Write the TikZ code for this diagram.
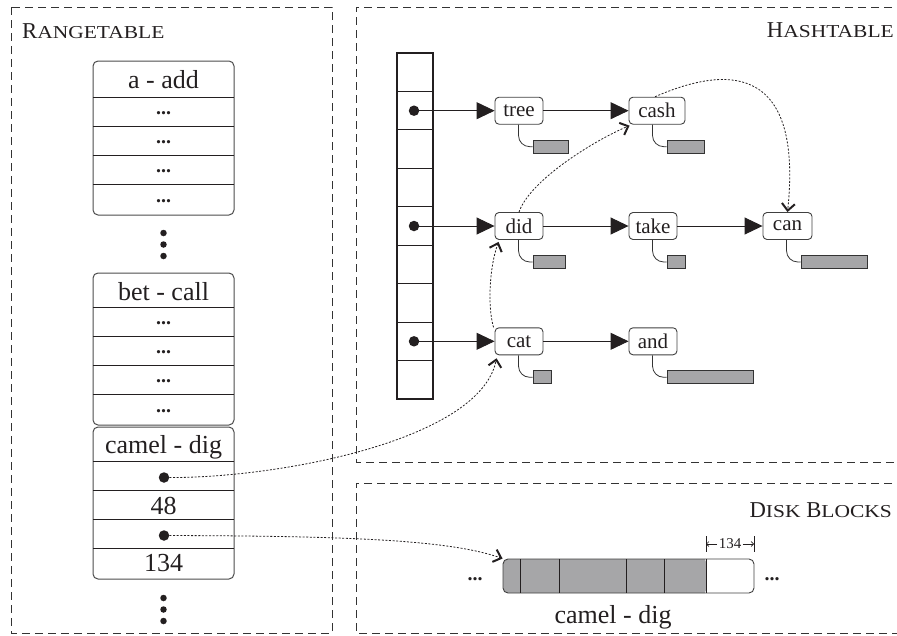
\documentclass[tikz,border=0pt]{standalone}
\usepackage{fontspec}
\usepackage{graphicx}
\setmainfont{Liberation Serif}
\usetikzlibrary{arrows.meta}
\definecolor{ink}{RGB}{35,31,32}
\definecolor{barfill}{RGB}{166,166,168}
\newcommand{\myfs}[1]{\fontsize{#1}{#1}\selectfont}
\newcommand{\fakesc}[2]{{\myfs{22.7}#1}\scalebox{1.18}[1]{\myfs{18.2}#2}}
\begin{document}
\begin{tikzpicture}[x=1pt,y=-1pt,
  panel/.style={draw=black!80, line width=0.9pt, dash pattern=on 8pt off 5pt},
  title/.style={inner sep=0, text=ink},
  rtxt/.style={inner sep=0, font=\myfs{26}, text=ink},
  ell/.style={inner sep=0, font=\myfs{20}\bfseries, text=ink},
  rtbox/.style={draw=black!70, line width=1pt, rounded corners=5pt},
  rowsep/.style={draw=ink, line width=0.9pt},
  cell/.style={draw=ink, line width=1.1pt, minimum width=36pt, minimum height=38.44pt, inner sep=0},
  ptrdot/.style={circle, fill=ink, inner sep=0, minimum size=10.5pt},
  vdot/.style={circle, fill=ink, inner sep=0, minimum size=6.5pt},
  hnode/.style={draw=black!75, line width=0.9pt, rounded corners=4pt, minimum width=48pt, minimum height=27pt, inner sep=0, font=\myfs{21}, text=ink},
  bar/.style={draw=black!80, line width=0.9pt, fill=barfill, minimum height=13pt, inner sep=0, anchor=west},
  lead/.style={draw=black!80, line width=0.8pt, rounded corners=11pt},
  ptr/.style={draw=ink, line width=0.9pt, -{Triangle[length=18pt,width=17pt]}},
  refarrow/.style={draw=ink, line width=0.8pt, dash pattern=on 2pt off 1.6pt, -{Straight Barb[length=7pt,width=13pt,line width=2pt]}},
  dimarrow/.style={draw=ink, line width=0.6pt, -{Straight Barb[length=2.5pt,width=5pt]}}
]
\useasboundingbox (0,0) rectangle (897,635);
\clip (0,0) rectangle (897,635);

% panels
\draw[panel] (11,7) rectangle (332,633);
\draw[panel] (905,7) -- (356,7) -- (356,462) -- (905,462);
\draw[panel] (905,483) -- (356,483) -- (356,633) -- (905,633);

% titles
\node[title, anchor=base west] (tRange) at (22,38) {\fakesc{R}{ANGETABLE}};
\node[title, anchor=base east] (tHash) at (894,37) {\fakesc{H}{ASHTABLE}};
\node[title, anchor=base east] (tDisk) at (892,517) {\fakesc{D}{ISK}{\myfs{22.7}\ }\fakesc{B}{LOCKS}};

% range table box 1
\draw[rtbox] (93,61) rectangle (234,215);
\foreach \y in {97,126,155,184} \draw[rowsep] (93,\y) -- (234,\y);
\node[rtxt, anchor=base] (h1) at (163.5,88) {a - add};
\foreach \y [count=\k] in {113,142,171,201} \node[ell] (ea\k) at (163.5,\y) {...};
\foreach \y [count=\k] in {233,244.5,256} \node[vdot] (va\k) at (163.5,\y) {};

% range table box 2
\draw[rtbox] (93,273) rectangle (234,425);
\foreach \y in {307,336,365,394} \draw[rowsep] (93,\y) -- (234,\y);
\node[rtxt, anchor=base] (h2) at (163.5,300) {bet - call};
\foreach \y [count=\k] in {323.5,352.5,381.5,411} \node[ell] (eb\k) at (163.5,\y) {...};

% range table box 3
\draw[rtbox] (93,427) rectangle (234,579);
\foreach \y in {461,490,519,548} \draw[rowsep] (93,\y) -- (234,\y);
\node[rtxt, anchor=base] (h3) at (163.5,453) {camel - dig};
\node[ptrdot] (rA) at (164,477.5) {};
\node[rtxt, anchor=base] (n48) at (163.5,514) {48};
\node[ptrdot] (rB) at (164,535.5) {};
\node[rtxt, anchor=base] (n134) at (163.5,571) {134};
\foreach \y [count=\k] in {598,609.5,621} \node[vdot] (vb\k) at (163.5,\y) {};

% hash array
\foreach \i in {1,...,9} \node[cell] (c\i) at (415,{53+38.44*(\i-0.5)}) {};
\node[ptrdot] (d2) at (414,110.7) {};
\node[ptrdot] (d5) at (414,226) {};
\node[ptrdot] (d8) at (414,341.3) {};

% hash nodes
\node[hnode] (tree) at (519,110.7) {tree};
\node[hnode, minimum width=56pt] (cash) at (657,110.7) {cash};
\node[hnode] (did) at (519,226) {did};
\node[hnode] (take) at (653,226) {take};
\node[hnode, minimum width=49pt] (can) at (787.5,226) {can};
\node[hnode] (cat) at (519,341.3) {cat};
\node[hnode] (nand) at (653,341.3) {and};

\draw[ptr] (d2.center) -- (tree);
\draw[ptr] (tree) -- (cash);
\draw[ptr] (d5.center) -- (did);
\draw[ptr] (did) -- (take);
\draw[ptr] (take) -- (can);
\draw[ptr] (d8.center) -- (cat);
\draw[ptr] (cat) -- (nand);

% value bars
\foreach \n/\w in {tree/35,cash/37,did/32,take/18,can/66,cat/18,nand/86}{
  \node[bar, minimum width=\w pt] (b\n) at ([xshift=38pt,yshift=-22pt]\n.south west) {};
  \draw[lead] ([xshift=24pt]\n.south west) |- (b\n.west);
}

% disk blocks
\node[draw=black!75, line width=0.9pt, rounded corners=5pt, minimum width=251pt, minimum height=34pt, inner sep=0,
  path picture={\fill[barfill] ([xshift=-2pt,yshift=2pt]path picture bounding box.north west) rectangle ([xshift=-48pt,yshift=-2pt]path picture bounding box.south east);}] (dbar) at (628.5,576) {};
\foreach \x in {520,559,626,664,706} \draw[rowsep, line width=0.8pt] (\x,559) -- (\x,593);
\node[ell] (dl) at (475,579) {...};
\node[ell] (dr) at (772,579) {...};
\node[rtxt, anchor=base] (dlabel) at (613,623) {camel - dig};

% dimension 134
\coordinate (tkl) at (706,544);
\coordinate (tkr) at (754,544);
\draw[ink, line width=0.7pt] (706,536) -- (706,552);
\draw[ink, line width=0.7pt] (754,536) -- (754,552);
\node[inner sep=1.5pt, font=\myfs{15}, text=ink] (dim) at (730,544) {134};
\draw[dimarrow] (dim.west) -- (tkl);
\draw[dimarrow] (dim.east) -- (tkr);

% dotted references
\draw[refarrow] (rA) .. controls (280,478) and (480,440) .. ([xshift=2pt,yshift=-3pt]cat.south west);
\draw[refarrow] ([xshift=-1pt]cat.north west) .. controls (487,305) and (490,265) .. ([xshift=4pt,yshift=-2pt]did.south west);
\draw[refarrow] (did.north) .. controls (530,180) and (595,140) .. ([xshift=1pt,yshift=-1pt]cash.south west);
\draw[refarrow] ([xshift=-2pt]cash.north) .. controls (705,75) and (805,45) .. (can.north);
\draw[refarrow] (rB) .. controls (350,536) and (450,540) .. (dbar.north west);
\end{tikzpicture}
\end{document}
